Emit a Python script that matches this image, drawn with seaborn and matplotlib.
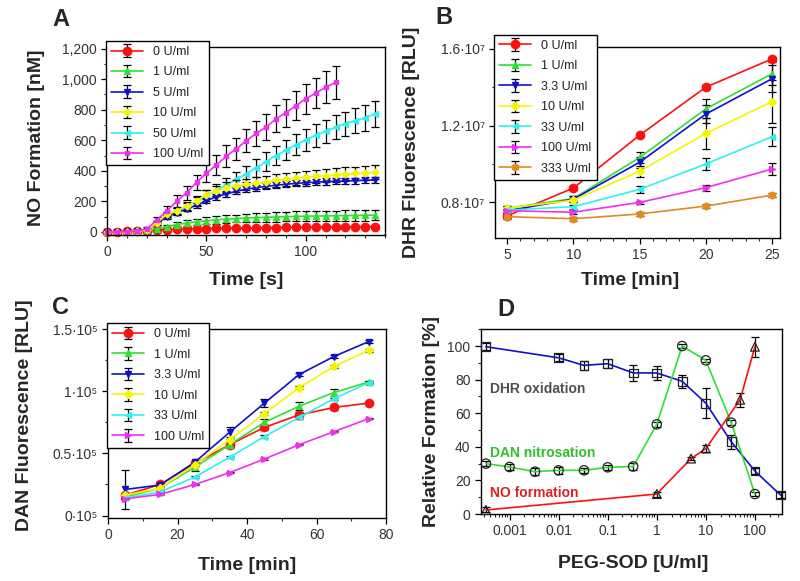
import numpy as np
import pandas as pd
import seaborn as sns
import matplotlib
matplotlib.use('Agg')
import matplotlib.pyplot as plt
from matplotlib.ticker import MultipleLocator, FixedLocator, FuncFormatter, LogLocator, NullFormatter

# ---- panel A: NO formation vs time
time_a = [0, 5, 10, 15, 20, 25, 30, 35, 40, 45, 50, 55, 60, 65, 70, 75, 80, 85, 90, 95,
          100, 105, 110, 115, 120, 125, 130, 135]
no_0 = [0, 2, 4, 6, 9, 12, 15, 17, 19, 21, 22, 23, 24, 25, 26, 27, 28, 29, 30, 30, 31, 32, 32, 33, 33, 34, 34, 35]
no_1 = [0, 0, 2, 5, 10, 20, 35, 48, 58, 66, 73, 79, 84, 88, 91, 94, 96, 98, 100, 102, 103, 104, 105, 106, 107, 108, 109, 110]
no_5 = [0, 0, 2, 5, 12, 55, 100, 125, 150, 175, 205, 230, 250, 266, 280, 290, 298, 306, 312, 318, 322, 326, 330, 332, 334, 336, 338, 340]
no_10 = [0, 0, 2, 5, 12, 60, 115, 140, 170, 205, 245, 268, 288, 300, 311, 320, 328, 337, 344, 351, 357, 363, 368, 373, 378, 383, 387, 391]
no_50 = [0, 0, 2, 5, 12, 58, 110, 135, 165, 200, 240, 272, 308, 344, 380, 420, 460, 500, 535, 570, 603, 632, 658, 684, 708, 728, 747, 773]
no_100 = [0, 0, 2, 5, 20, 78, 138, 200, 257, 325, 385, 438, 496, 544, 596, 645, 686, 740, 781, 826, 872, 908, 947, 978]
err_no_0 = [1, 1, 2, 2, 3, 3, 4, 4, 5, 5, 5, 5, 6, 6, 6, 6, 6, 7, 7, 7, 7, 7, 7, 8, 8, 8, 8, 8]
err_no_1 = [1, 1, 2, 3, 5, 8, 12, 15, 18, 20, 22, 24, 25, 26, 27, 28, 29, 30, 31, 32, 32, 33, 33, 34, 34, 35, 35, 35]
err_no_5 = [1, 1, 2, 3, 5, 10, 13, 15, 16, 17, 18, 18, 19, 19, 19, 20, 20, 20, 20, 20, 20, 20, 20, 20, 20, 20, 20, 20]
err_no_10 = [1, 1, 2, 3, 6, 12, 18, 22, 26, 30, 32, 34, 36, 37, 38, 39, 40, 41, 41, 42, 42, 43, 43, 44, 44, 44, 45, 45]
err_no_50 = [1, 1, 2, 3, 6, 12, 18, 22, 26, 30, 35, 40, 45, 50, 54, 58, 60, 63, 66, 69, 72, 74, 76, 78, 80, 82, 84, 85]
err_no_100 = [1, 1, 2, 4, 10, 20, 35, 40, 45, 50, 60, 65, 70, 72, 75, 80, 85, 88, 92, 95, 98, 100, 103, 105]
labels_a = ['0 U/ml', '1 U/ml', '5 U/ml', '10 U/ml', '50 U/ml', '100 U/ml']

# ---- panel B: DHR fluorescence (x 1e7)
time_b = [5, 10, 15, 20, 25]
dhr_0 = [0.73, 0.875, 1.15, 1.40, 1.547]
dhr_1 = [0.77, 0.82, 1.034, 1.287, 1.47]
dhr_3p3 = [0.757, 0.817, 1.009, 1.26, 1.444]
dhr_10 = [0.77, 0.812, 0.962, 1.159, 1.325]
dhr_33 = [0.76, 0.778, 0.868, 1.0, 1.142]
dhr_100 = [0.757, 0.749, 0.80, 0.877, 0.974]
dhr_333 = [0.726, 0.715, 0.74, 0.781, 0.838]
err_dhr_0 = [0.01, 0.01, 0.01, 0.01, 0.01]
err_dhr_1 = [0.01, 0.015, 0.03, 0.05, 0.06]
err_dhr_3p3 = [0.01, 0.015, 0.03, 0.045, 0.07]
err_dhr_10 = [0.01, 0.01, 0.03, 0.08, 0.11]
err_dhr_33 = [0.01, 0.01, 0.02, 0.03, 0.05]
err_dhr_100 = [0.01, 0.01, 0.01, 0.015, 0.03]
err_dhr_333 = [0.01, 0.01, 0.01, 0.01, 0.01]
labels_b = ['0 U/ml', '1 U/ml', '3.3 U/ml', '10 U/ml', '33 U/ml', '100 U/ml', '333 U/ml']

# ---- panel C: DAN fluorescence (x 1e5)
time_c = [5, 15, 25, 35, 45, 55, 65, 75]
dan_0 = [0.165, 0.25, 0.42, 0.57, 0.71, 0.81, 0.87, 0.905]
dan_1 = [0.15, 0.22, 0.39, 0.57, 0.75, 0.88, 0.99, 1.075]
dan_3p3 = [0.21, 0.246, 0.43, 0.67, 0.905, 1.135, 1.28, 1.40]
dan_10 = [0.165, 0.22, 0.41, 0.61, 0.82, 1.03, 1.20, 1.33]
dan_33 = [0.14, 0.19, 0.31, 0.47, 0.635, 0.79, 0.94, 1.07]
dan_100 = [0.135, 0.17, 0.25, 0.345, 0.455, 0.57, 0.675, 0.78]
err_dan_0 = [0.02, 0.02, 0.02, 0.02, 0.02, 0.02, 0.02, 0.01]
err_dan_1 = [0.02, 0.02, 0.03, 0.03, 0.03, 0.03, 0.03, 0.01]
err_dan_3p3 = [0.16, 0.01, 0.01, 0.04, 0.03, 0.01, 0.01, 0.01]
err_dan_10 = [0.01, 0.01, 0.01, 0.01, 0.01, 0.01, 0.01, 0.01]
err_dan_33 = [0.01, 0.01, 0.01, 0.01, 0.01, 0.01, 0.01, 0.01]
err_dan_100 = [0.005, 0.005, 0.005, 0.005, 0.005, 0.005, 0.005, 0.005]
labels_c = ['0 U/ml', '1 U/ml', '3.3 U/ml', '10 U/ml', '33 U/ml', '100 U/ml']

# ---- panel D: relative formation vs PEG-SOD
sod_dhr = [0.00033, 0.01, 0.033, 0.1, 0.33, 1, 3.3, 10, 33, 100, 333]
rel_dhr = [99.6, 93, 88.5, 89.5, 84, 84, 79, 66, 43, 25.6, 11.3]
err_rel_dhr = [2, 2, 2.5, 2.5, 5, 4, 4, 9, 4, 2, 2]
sod_dan = [0.00033, 0.001, 0.0033, 0.01, 0.033, 0.1, 0.33, 1, 3.3, 10, 33, 100]
rel_dan = [30, 28, 25.2, 26, 26, 27.8, 28.3, 53.4, 100, 91.5, 54.4, 11.9]
err_rel_dan = [1.5, 1.5, 2, 2, 1.5, 1.5, 2, 1.5, 1, 1, 1.5, 1]
sod_no = [0.00033, 1, 5, 10, 50, 100]
rel_no = [2.4, 11.9, 33, 39, 68, 99.6]
err_rel_no = [1.5, 1.5, 1, 2, 4, 6]

red = '#ff1010'
green = '#30e030'
blue = '#1010d0'
yellow = '#f5f500'
cyan = '#30f0f0'
magenta = '#f030f0'
orange = '#e08a20'
tick_col = '#333333'

sns.set_style('ticks')
plt.rcParams['font.family'] = ['Liberation Sans', 'DejaVu Sans']
plt.rcParams['axes.linewidth'] = 1.0

fig = plt.figure(figsize=(8, 5.81), dpi=100)
ax_a = fig.add_axes([0.134, 0.5955, 0.3475, 0.3236])
ax_b = fig.add_axes([0.619, 0.5904, 0.356, 0.329])
ax_c = fig.add_axes([0.135, 0.1084, 0.3475, 0.325])
ax_d = fig.add_axes([0.601, 0.1153, 0.376, 0.318])


def draw(ax, x, y, e, col, mk, ms, lab=None, z=2):
    c = ax.errorbar(x, y, yerr=e, color=col, marker=mk, markersize=ms, lw=1.2,
                    ecolor='black', elinewidth=0.9, capsize=3, capthick=0.9,
                    label=lab, zorder=z)
    arts = [c.lines[0]] + list(c.lines[1]) + list(c.lines[2])
    for art in arts:
        art.set_clip_on(False)


def style(ax):
    ax.tick_params(which='major', direction='out', length=4, width=0.9,
                   labelsize=10, colors='black', labelcolor=tick_col,
                   top=False, right=False)
    ax.tick_params(which='minor', direction='out', length=2, width=0.8,
                   top=False, right=False)
    for s in ax.spines.values():
        s.set_visible(True)
        s.set_color('black')


def legend(ax, y_top):
    leg = ax.legend(loc='upper left', bbox_to_anchor=(-0.005, y_top), fontsize=9,
                    frameon=True, fancybox=False, edgecolor='black', framealpha=1,
                    handlelength=2.6, labelspacing=0.68, borderpad=0.4,
                    handletextpad=0.8, borderaxespad=0)
    leg.get_frame().set_linewidth(1.0)
    leg.set_zorder(10)
    for t in leg.get_texts():
        t.set_color('#222222')


lab_kw = dict(fontsize=14, fontweight='bold')

# panel A
draw(ax_a, time_a, no_0, err_no_0, red, 'o', 6, labels_a[0])
draw(ax_a, time_a, no_1, err_no_1, green, '^', 5, labels_a[1])
draw(ax_a, time_a, no_5, err_no_5, blue, 'v', 5, labels_a[2])
draw(ax_a, time_a, no_10, err_no_10, yellow, 'D', 3.5, labels_a[3])
draw(ax_a, time_a, no_50, err_no_50, cyan, '<', 4, labels_a[4], z=1.5)
draw(ax_a, time_a[:len(no_100)], no_100, err_no_100, magenta, 's', 3.5, labels_a[5])
ax_a.set_xlim(0, 140)
ax_a.set_ylim(-20, 1210)
ax_a.xaxis.set_major_locator(FixedLocator([0, 50, 100]))
ax_a.xaxis.set_minor_locator(MultipleLocator(10))
ax_a.yaxis.set_major_locator(MultipleLocator(200))
ax_a.yaxis.set_minor_locator(MultipleLocator(100))
ax_a.yaxis.set_major_formatter(FuncFormatter(lambda v, p: f'{int(v):,}'))
style(ax_a)
legend(ax_a, 1.032)
ax_a.set_xlabel('Time [s]', **lab_kw)
ax_a.set_ylabel('NO Formation [nM]', **lab_kw)
ax_a.xaxis.set_label_coords(0.5, -0.197)
ax_a.yaxis.set_label_coords(-0.223, 0.516)

# panel B
draw(ax_b, time_b, dhr_0, err_dhr_0, red, 'o', 6, labels_b[0])
draw(ax_b, time_b, dhr_1, err_dhr_1, green, '^', 5, labels_b[1])
draw(ax_b, time_b, dhr_3p3, err_dhr_3p3, blue, 'v', 5, labels_b[2])
draw(ax_b, time_b, dhr_10, err_dhr_10, yellow, 'D', 4, labels_b[3])
draw(ax_b, time_b, dhr_33, err_dhr_33, cyan, '<', 4.5, labels_b[4])
draw(ax_b, time_b, dhr_100, err_dhr_100, magenta, '>', 4.5, labels_b[5])
draw(ax_b, time_b, dhr_333, err_dhr_333, orange, 'h', 5, labels_b[6])
ax_b.set_xlim(4.1, 25.6)
ax_b.set_ylim(0.615, 1.61)
ax_b.xaxis.set_major_locator(MultipleLocator(5))
ax_b.xaxis.set_minor_locator(MultipleLocator(1))
ax_b.yaxis.set_major_locator(FixedLocator([0.8, 1.2, 1.6]))
ax_b.yaxis.set_minor_locator(FixedLocator([1.0, 1.4]))
ax_b.yaxis.set_major_formatter(FuncFormatter(lambda v, p: f'{v:.1f}\u00b710\u2077'))
style(ax_b)
legend(ax_b, 1.063)
ax_b.set_xlabel('Time [min]', **lab_kw)
ax_b.set_ylabel('DHR Fluorescence [RLU]', **lab_kw)
ax_b.xaxis.set_label_coords(0.474, -0.178)
ax_b.yaxis.set_label_coords(-0.263, 0.50)

# panel C
draw(ax_c, time_c, dan_0, err_dan_0, red, 'o', 6, labels_c[0])
draw(ax_c, time_c, dan_1, err_dan_1, green, '^', 5, labels_c[1])
draw(ax_c, time_c, dan_3p3, err_dan_3p3, blue, 'v', 5, labels_c[2])
draw(ax_c, time_c, dan_10, err_dan_10, yellow, 'D', 4, labels_c[3])
draw(ax_c, time_c, dan_33, err_dan_33, cyan, '<', 4.5, labels_c[4])
draw(ax_c, time_c, dan_100, err_dan_100, magenta, '>', 4.5, labels_c[5])
ax_c.set_xlim(0, 80)
ax_c.set_ylim(-0.02, 1.5)
ax_c.xaxis.set_major_locator(MultipleLocator(20))
ax_c.xaxis.set_minor_locator(MultipleLocator(10))
ax_c.yaxis.set_major_locator(MultipleLocator(0.5))
ax_c.yaxis.set_minor_locator(MultipleLocator(0.25))
ax_c.yaxis.set_major_formatter(FuncFormatter(lambda v, p: f'{v:g}\u00b710\u2075'))
style(ax_c)
legend(ax_c, 1.032)
ax_c.set_xlabel('Time [min]', **lab_kw)
ax_c.set_ylabel('DAN Fluorescence [RLU]', **lab_kw)
ax_c.xaxis.set_label_coords(0.5, -0.206)
ax_c.yaxis.set_label_coords(-0.27, 0.545)

# panel D
draw(ax_d, sod_dhr, rel_dhr, err_rel_dhr, blue, 's', 0)
draw(ax_d, sod_dan, rel_dan, err_rel_dan, green, 'o', 0)
draw(ax_d, sod_no, rel_no, err_rel_no, red, '^', 0)
ax_d.scatter(sod_dhr, rel_dhr, marker='s', s=40, facecolors='none', edgecolors='#222222',
             linewidths=0.9, zorder=5, clip_on=False)
ax_d.scatter(sod_dan, rel_dan, marker='o', s=45, facecolors='none', edgecolors='#222222',
             linewidths=0.9, zorder=5, clip_on=False)
ax_d.scatter(sod_no, rel_no, marker='^', s=40, facecolors='none', edgecolors='#222222',
             linewidths=0.9, zorder=5, clip_on=False)
ax_d.set_xscale('log')
ax_d.set_xlim(2.6e-4, 350)
ax_d.set_ylim(0, 110)
ax_d.xaxis.set_major_locator(FixedLocator([0.001, 0.01, 0.1, 1, 10, 100]))
ax_d.xaxis.set_major_formatter(FuncFormatter(lambda v, p: f'{v:g}'))
ax_d.xaxis.set_minor_locator(LogLocator(base=10, subs=np.arange(2, 10)))
ax_d.xaxis.set_minor_formatter(NullFormatter())
ax_d.yaxis.set_major_locator(MultipleLocator(20))
ax_d.yaxis.set_minor_locator(MultipleLocator(10))
style(ax_d)
ax_d.text(0.03, 0.676, 'DHR oxidation', transform=ax_d.transAxes, color='#505050',
          fontsize=10, fontweight='bold', va='center')
ax_d.text(0.03, 0.33, 'DAN nitrosation', transform=ax_d.transAxes, color='#30c030',
          fontsize=10, fontweight='bold', va='center')
ax_d.text(0.03, 0.114, 'NO formation', transform=ax_d.transAxes, color='#e02020',
          fontsize=10, fontweight='bold', va='center')
ax_d.set_xlabel('PEG-SOD [U/ml]', **lab_kw)
ax_d.set_ylabel('Relative Formation [%]', **lab_kw)
ax_d.xaxis.set_label_coords(0.505, -0.222)
ax_d.yaxis.set_label_coords(-0.136, 0.50)

# panel letters
for lab, x, y in [('A', 52, 19), ('B', 435, 17), ('C', 52, 308), ('D', 497, 310)]:
    fig.text(x / 800, 1 - y / 581, lab, fontsize=17, fontweight='bold', va='center', ha='left')

fig.savefig('out.png', dpi=100)
